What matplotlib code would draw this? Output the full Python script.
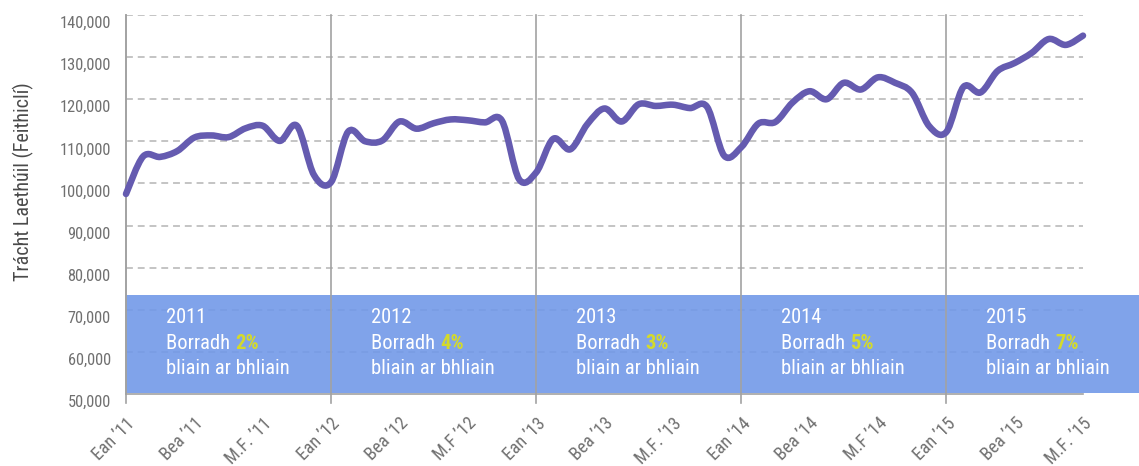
import numpy as np
import matplotlib.pyplot as plt
import matplotlib.transforms as mtransforms
from matplotlib import font_manager
from matplotlib.path import Path
from matplotlib.patches import PathPatch, Rectangle

# cló caol más féidir
names = {f.name for f in font_manager.fontManager.ttflist}
narrow = 'Roboto'
for want in ['Roboto Condensed', 'Liberation Sans Narrow', 'DejaVu Sans Condensed']:
    if want in names:
        narrow = want
        break
plt.rcParams['font.family'] = [narrow, 'DejaVu Sans']

# trácht laethúil míosúil, Ean 2011 - M.F. 2015
traffic = [97500, 106400, 106300, 107700, 110900, 111400, 111000, 113100, 113700, 110100, 113700, 102000,
           100300, 112300, 110000, 110200, 114700, 113000, 114300, 115200, 115000, 114500, 114900, 101000,
           102600, 110600, 108100, 114100, 117800, 114700, 118800, 118400, 118700, 117900, 118200, 106600,
           108600, 114200, 114600, 119200, 121900, 120000, 123900, 122300, 125200, 123900, 121500, 113600,
           112200, 122900, 121600, 126700, 128600, 131000, 134300, 132900, 135100]
months = np.arange(len(traffic))

tick_labels = ['Ean ’11', 'Bea ’11', 'M.F. ’11', 'Ean ’12', 'Bea ’12', 'M.F ’12', 'Ean ’13', 'Bea ’13',
               'M.F. ’13', 'Ean ’14', 'Bea ’14', 'M.F ’14', 'Ean ’15', 'Bea ’15', 'M.F. ’15']
years = ['2011', '2012', '2013', '2014', '2015']
growth = ['2%', '4%', '3%', '5%', '7%']

line_color = '#655bb0'
grid_color = '#b4b4b4'
text_gray = '#707070'

fig = plt.figure(figsize=(11.39, 4.66), dpi=100)
ax = fig.add_axes([126 / 1139, 72 / 466, (1083 - 126) / 1139, (451 - 72) / 466])
ax.set_xlim(0, 56)
ax.set_ylim(50000, 140000)

# línte greille
for v in range(60000, 140001, 10000):
    ax.axhline(v, color=grid_color, lw=1.1, ls=(0, (4.5, 3.2)), zorder=1)

# an banda gorm, go dtí imeall an fhíoraigh
trans = mtransforms.blended_transform_factory(fig.transFigure, ax.transData)
band = Rectangle((126 / 1139, 50200), 1 - 126 / 1139, 73500 - 50200, transform=trans,
                 facecolor='#7299e8', alpha=0.9, edgecolor='none', clip_on=False, zorder=2)
ax.add_patch(band)

# línte bliana
for x in [0, 12, 24, 36, 48]:
    ax.axvline(x, ymin=-0.025, ymax=1, color='#a2a2a2', lw=1.2, clip_on=False, zorder=3)

# líne réidh (Bezier)
pts = np.column_stack([months, traffic]).astype(float)
n = len(pts)
verts = [pts[0]]
codes = [Path.MOVETO]
for i in range(n - 1):
    p0 = pts[max(i - 1, 0)]
    p1 = pts[i]
    p2 = pts[i + 1]
    p3 = pts[min(i + 2, n - 1)]
    verts += [p1 + (p2 - p0) / 6, p2 - (p3 - p1) / 6, p2]
    codes += [Path.CURVE4] * 3
patch = PathPatch(Path(verts, codes), fill=False, edgecolor=line_color, lw=4.7,
                  capstyle='round', joinstyle='round', clip_on=False, zorder=5)
ax.add_patch(patch)

# téacs sa bhanda
fs = 14.8
for k, (yr, g) in enumerate(zip(years, growth)):
    x0 = 12 * k + 2.35
    ax.text(x0, 68050, yr, color='white', fontsize=fs, va='center', ha='left', zorder=6)
    t = ax.text(x0, 62110, 'Borradh ', color='white', fontsize=fs, va='center', ha='left', zorder=6)
    ax.annotate(g, xy=(1, 0), xycoords=t, va='bottom', ha='left', color='#d4da2b',
                fontsize=fs, fontweight='bold', zorder=6)
    ax.text(x0, 56170, 'bliain ar bhliain', color='white', fontsize=fs, va='center', ha='left', zorder=6)

# aiseanna
for s in ['top', 'right']:
    ax.spines[s].set_visible(False)
ax.spines['left'].set_color('#a2a2a2')
ax.spines['bottom'].set_color('#a2a2a2')
ax.spines['bottom'].set_linewidth(1.2)
ax.spines['left'].set_linewidth(1.2)
ax.spines['bottom'].set_zorder(4)

yt = list(range(50000, 140001, 10000))
ax.set_yticks(yt)
ax.set_yticklabels([f'{v:,}' for v in yt])
ax.tick_params(axis='y', length=0, pad=11, labelsize=11.8, labelcolor=text_gray)
ydown = mtransforms.ScaledTranslation(0, -7 / 100, fig.dpi_scale_trans)
for lab in ax.get_yticklabels():
    lab.set_transform(lab.get_transform() + ydown)

ax.set_xticks(np.arange(0, 57, 4))
ax.set_xticklabels(tick_labels)
ax.tick_params(axis='x', length=0, pad=14.5, labelsize=13, labelcolor=text_gray)
offset = mtransforms.ScaledTranslation(0, 0, fig.dpi_scale_trans)
for lab in ax.get_xticklabels():
    lab.set_rotation(45)
    lab.set_ha('right')
    lab.set_va('top')
    lab.set_rotation_mode('anchor')
    lab.set_transform(lab.get_transform() + offset)

fig.text(23 / 1139, 1 - 182 / 466, 'Trácht Laethúil (Feithiclí)', rotation=90, ha='center', va='center',
         fontsize=14.5, color='#4a4a4a')

fig.savefig('out.png', dpi=100)
